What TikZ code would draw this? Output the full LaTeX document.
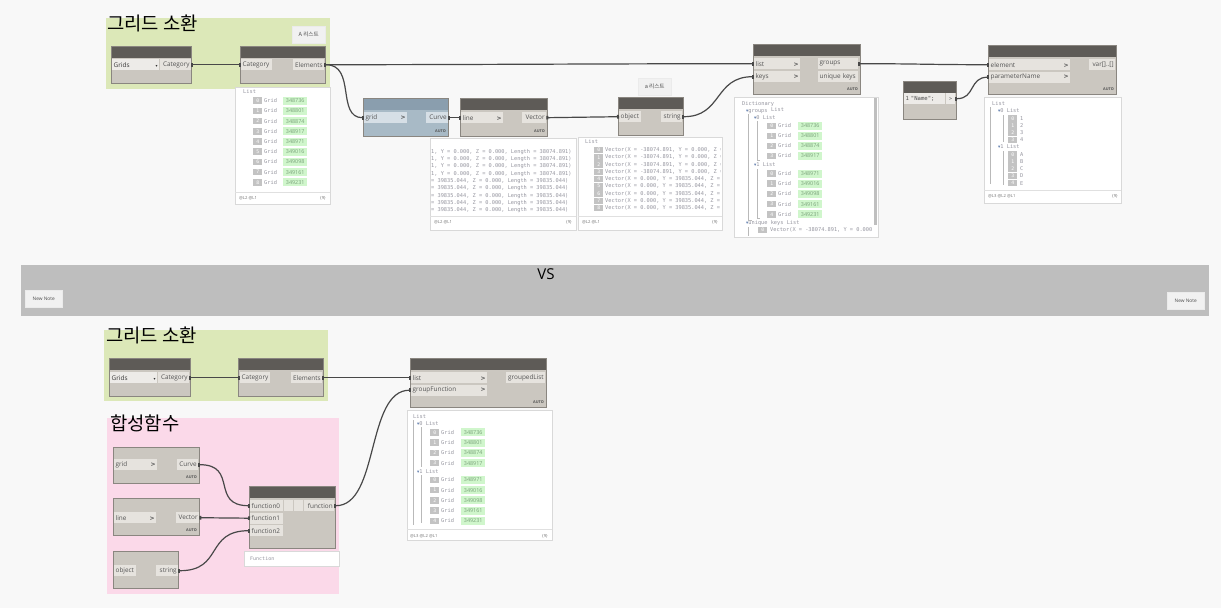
\documentclass[tikz,border=0pt]{standalone}
\usepackage{fontspec}
\setmainfont{Open Sans}
\newfontfamily\uif{Open Sans}
\newfontfamily\monof{DejaVu Sans Mono}
\newfontfamily\symf{DejaVu Sans}
\newfontfamily\kor{Noto Sans CJK KR}
\usetikzlibrary{arrows.meta}
\definecolor{bgc}{RGB}{248,248,248}
\definecolor{hdrc}{RGB}{94,91,87}
\definecolor{bodyc}{RGB}{203,199,192}
\definecolor{portc}{RGB}{230,227,222}
\definecolor{bordc}{RGB}{138,134,128}
\definecolor{txtc}{RGB}{85,85,85}
\definecolor{greengrp}{RGB}{220,232,184}
\definecolor{pinkgrp}{RGB}{251,217,233}
\definecolor{bandc}{RGB}{190,190,190}
\definecolor{wirec}{RGB}{72,72,72}
\definecolor{prevtxt}{RGB}{150,150,160}
\definecolor{idxc}{RGB}{195,195,195}
\definecolor{valc}{RGB}{208,246,204}
\definecolor{valtxt}{RGB}{120,160,120}
\definecolor{bluehdr}{RGB}{138,158,174}
\definecolor{bluebody}{RGB}{168,186,198}
\definecolor{blueport}{RGB}{214,223,230}
\definecolor{notec}{RGB}{241,241,241}
\definecolor{tric}{RGB}{90,120,170}
\definecolor{treec}{RGB}{185,185,185}
\tikzset{
  dport/.style={fill=portc, inner xsep=1.5pt, inner ysep=0pt, minimum height=11pt, text=txtc,
    font=\uif\fontsize{6.4}{7}\selectfont, anchor=north west},
  dportl/.style={dport, align=left},
  dportr/.style={dport, align=right},
  dwire/.style={draw=wirec, line width=1.2pt, {Rectangle[length=2pt,width=3.6pt]}-{Rectangle[length=2pt,width=3.6pt]}},
  ptxt/.style={font=\monof\fontsize{5.3}{6}\selectfont, text=prevtxt, inner sep=0pt, anchor=west},
  pfoot/.style={font=\uif\fontsize{4.2}{5}\selectfont, text=black!55, inner sep=0pt, anchor=west},
  idxbox/.style={fill=idxc, text=white, font=\monof\fontsize{4.8}{5}\selectfont, minimum width=9pt, minimum height=6.5pt, inner sep=0pt, anchor=west},
  valbox/.style={fill=valc, text=valtxt, font=\uif\fontsize{5.4}{6}\selectfont, minimum width=24pt, minimum height=8pt, inner sep=0pt, anchor=west},
  prevbox/.style={draw=black!15, fill=white, line width=0.6pt},
  autolbl/.style={font=\uif\bfseries\fontsize{3.8}{4}\selectfont, text=txtc, inner sep=0pt, anchor=east},
  notebox/.style={fill=notec, draw=black!8, font=\kor\fontsize{5.6}{6}\selectfont, text=black!70, anchor=north west, inner sep=0pt},
  grptitle/.style={font=\kor\fontsize{18.8}{20}\selectfont, inner sep=0pt, anchor=north west, text=black},
  treeline/.style={draw=treec, line width=0.7pt},
}
\newcommand{\dynframe}[6]{%
  \fill[#6] (#1,#2) rectangle (#3,#4);
  \fill[#5] (#1,#2) rectangle (#3,#2+12);
  \draw[bordc, line width=0.7pt] (#1,#2) rectangle (#3,#4);}
\newcommand{\chev}{{\symf\bfseries\fontsize{6}{6}\selectfont >}}
\newcommand{\tri}{{\color{tric}\symf\fontsize{4.5}{5}\selectfont ▾}}
\begin{document}
\begin{tikzpicture}[x=1pt,y=-1pt]
\fill[bgc] (0,0) rectangle (1221,608);
\useasboundingbox (0,0) rectangle (1221,608);

% ================= TOP ROW =================
\fill[greengrp] (106,18) rectangle (330,89);
\node[grptitle] (title1) at (107,14.5) {그리드 소환};
\node[notebox, minimum width=33pt, minimum height=17pt] (noteA) at (292,26) {A 리스트};

% Categories
\dynframe{111}{46}{191}{83}{hdrc}{bodyc}
\node[dportl, fill=portc!70!white, text width=44pt, text=black!80] (dd1) at (112,59) {Grids\hfill{\symf\fontsize{4}{4}\selectfont ▾}};
\node[dportr, text width=28pt] (c1out) at (160,59) {Category};
% All Elements of Category
\dynframe{240}{46}{325}{83}{hdrc}{bodyc}
\node[dportl, text width=28pt] (ae1in) at (241,59) {Category};
\node[dportr, text width=28pt] (ae1out) at (293,59) {Elements};

% preview 1
\draw[prevbox] (235,87) rectangle (330,204);
\draw[black!12] (235,192) -- (330,192);
\node[ptxt] (p1h) at (243,92) {List};
\foreach \v [count=\i from 0] in {348736,348801,348874,348917,348971,349016,349098,349161,349231} {
  \node[idxbox] (p1i\i) at (253,100.7+\i*10.2) {\i};
  \node[ptxt] (p1g\i) at (264,100.7+\i*10.2) {Grid};
  \node[valbox] (p1v\i) at (283,100.7+\i*10.2) {\v};
}
\node[pfoot] (p1f) at (239,198) {@L2 @L1};
\node[pfoot, anchor=east] (p1c) at (326,198) {\{9\}};

% Curve (blue)
\dynframe{363}{98}{448}{136}{bluehdr}{bluebody}
\node[dportl, fill=blueport, text width=40pt] (cvin) at (364,112) {grid\hfill\chev};
\node[dportr, fill=blueport, text width=19pt] (cvout) at (426,112) {Curve};
\node[autolbl] (cvauto) at (446,131) {AUTO};

% Line.Direction
\dynframe{460}{98}{547}{136}{hdrc}{bodyc}
\node[dportl, text width=39pt] (ldin) at (461,112) {line\hfill\chev};
\node[dportr, text width=21pt] (ldout) at (522,112) {Vector};
\node[autolbl] (ldauto) at (545,131) {AUTO};

% preview Curve
\draw[prevbox] (430,138) rectangle (576,230);
\draw[black!12] (430,216) -- (576,216);
\begin{scope}
\clip (431,139) rectangle (575,215);
\foreach \yy [count=\k] in {152,159,166,174} {
  \node[ptxt] (cl\k) at (431,\yy) {1, Y = 0.000, Z = 0.000, Length = 38074.891)};
}
\foreach \yy [count=\k] in {181,188,196,203,210} {
  \node[ptxt] (cm\k) at (431,\yy) {= 39835.044, Z = 0.000, Length = 39835.044)};
}
\end{scope}
\node[pfoot] (p2f) at (434,222) {@L2 @L1};
\node[pfoot, anchor=east] (p2c) at (572,222) {\{9\}};

% note a
\node[notebox, minimum width=33pt, minimum height=17pt] (notea) at (638,78) {a 리스트};

% String from Object
\dynframe{618}{97}{683}{135}{hdrc}{bodyc}
\node[dportl, text width=19pt] (sfoin) at (619,111) {object};
\node[dportr, text width=18pt] (sfoout) at (661,111) {string};

% preview string
\draw[prevbox] (578,137) rectangle (722,230);
\draw[black!12] (578,216) -- (722,216);
\node[ptxt] (p3h) at (585,142) {List};
\begin{scope}
\clip (579,138) rectangle (720,215);
\foreach \i in {0,1,2,3} {
  \node[idxbox] (p3i\i) at (594,150+\i*7.25) {\i};
  \node[ptxt] (p3t\i) at (605,150+\i*7.25) {Vector(X = -38074.891, Y = 0.000, Z = 0.000)};
}
\foreach \i in {4,5,6,7,8} {
  \node[idxbox] (p3i\i) at (594,150+\i*7.25) {\i};
  \node[ptxt] (p3t\i) at (605,150+\i*7.25) {Vector(X = 0.000, Y = 39835.044, Z = 0.000)};
}
\end{scope}
\node[pfoot] (p3f) at (582,222) {@L2 @L1};
\node[pfoot, anchor=east] (p3c) at (718,222) {\{9\}};

% GroupByKey
\dynframe{753}{44}{860}{94}{hdrc}{bodyc}
\node[dportl, text width=43pt] (gbklist) at (754,58) {list\hfill\chev};
\node[dportl, text width=43pt] (gbkkeys) at (754,71) {keys\hfill\chev};
\node[dportl, text width=37pt] (gbkgroups) at (818,58) {groups};
\node[dportl, text width=37pt] (gbkuk) at (818,71) {unique keys};
\node[autolbl] (gbkauto) at (858,89) {AUTO};

% Dictionary preview
\draw[prevbox] (734,97) rectangle (878,237);
\fill[black!25] (873.5,98) rectangle (876.5,225);
\draw[treeline] (748.5,114) -- (748.5,220) -- (752,220);
\draw[treeline] (757,121) -- (757,160) -- (760,160);
\draw[treeline] (757,169) -- (757,218) -- (760,218);
\draw[treeline] (748.5,227) -- (748.5,236);
\node[ptxt] (dh) at (742,104) {Dictionary};
\node[ptxt] (dg) at (746,112) {\tri groups};
\node[ptxt] (dgl) at (771,109.5) {List};
\node[ptxt] (d0) at (754,118) {\tri 0 List};
\foreach \v [count=\i from 0] in {348736,348801,348874,348917} {
  \node[idxbox] (d0i\i) at (767,126+\i*10) {\i};
  \node[ptxt] (d0g\i) at (778,126+\i*10) {Grid};
  \node[valbox] (d0v\i) at (798,126+\i*10) {\v};
}
\node[ptxt] (d1) at (754,165) {\tri 1 List};
\foreach \v [count=\i from 0] in {348971,349016,349098,349161,349231} {
  \node[idxbox] (d1i\i) at (767,173.5+\i*10.2) {\i};
  \node[ptxt] (d1g\i) at (778,173.5+\i*10.2) {Grid};
  \node[valbox] (d1v\i) at (798,173.5+\i*10.2) {\v};
}
\node[ptxt] (duk) at (746,223) {\tri unique keys List};
\begin{scope}
\clip (735,225) rectangle (872,236);
\node[idxbox] (duki) at (758,230) {0};
\node[ptxt] (dukt) at (770,230) {Vector(X = -38074.891, Y = 0.000, Z = 0.000)};
\end{scope}

% Code block
\dynframe{903}{81}{956}{119}{hdrc}{bodyc}
\node[dportl, fill=portc!70!white, text width=38pt, font=\monof\fontsize{5.6}{6}\selectfont, text=black!70] (cbtxt) at (904,93) {1 "Name";};
\node[dport, fill=portc!70!white, minimum width=9pt, inner xsep=0pt, font=\monof\fontsize{5}{6}\selectfont] (cbout) at (946,93) {>};

% GetParameterValueByName
\dynframe{988}{45}{1116}{94}{hdrc}{bodyc}
\node[dportl, text width=78pt] (gpel) at (989,59) {element\hfill\chev};
\node[dportl, text width=78pt] (gppn) at (989,71.5) {parameterName\hfill\chev};
\node[dportr, text width=23pt] (gpout) at (1089,59) {var[]..[]};
\node[autolbl] (gpauto) at (1114,89) {AUTO};

% preview GPV
\draw[prevbox] (984,97) rectangle (1121,203);
\draw[black!12] (984,190) -- (1121,190);
\draw[treeline] (990,107) -- (990,184);
\draw[treeline] (1003,115) -- (1003,142);
\draw[treeline] (1003,151) -- (1003,185);
\node[ptxt] (gh) at (992,104) {List};
\node[ptxt] (g0) at (998,111) {\tri 0 List};
\foreach \v [count=\i from 0] in {1,2,3,4} {
  \node[idxbox] (g0i\i) at (1008,118.3+\i*7.2) {\i};
  \node[ptxt] (g0v\i) at (1020,118.3+\i*7.2) {\v};
}
\node[ptxt] (g1) at (998,147) {\tri 1 List};
\foreach \v [count=\i from 0] in {A,B,C,D,E} {
  \node[idxbox] (g1i\i) at (1008,154.3+\i*7.2) {\i};
  \node[ptxt] (g1v\i) at (1020,154.3+\i*7.2) {\v};
}
\node[pfoot] (gf) at (988,196) {@L3 @L2 @L1};
\node[pfoot, anchor=east] (gc) at (1118,196) {\{9\}};

% wires top
\draw[dwire] (c1out.east) -- (ae1in.west);
\draw[dwire] (ae1out.east) .. controls +(150,0) and +(-150,0) .. (gbklist.west);
\draw[dwire] (ae1out.east) .. controls +(32,0) and +(-28,0) .. (cvin.west);
\draw[dwire] (cvout.east) -- (ldin.west);
\draw[dwire] (ldout.east) -- (sfoin.west);
\draw[dwire] (sfoout.east) .. controls +(40,0) and +(-40,0) .. (gbkkeys.west);
\draw[dwire] (gbkgroups.east) .. controls +(60,0) and +(-60,0) .. (gpel.west);
\draw[dwire] (cbout.east) .. controls +(20,0) and +(-20,0) .. (gppn.west);

% ================= BAND =================
\fill[bandc] (21,265) rectangle (1209,316);
\node[font=\uif\fontsize{15}{16}\selectfont, inner sep=0pt] (vs) at (546,274) {VS};
\node[notebox, font=\uif\fontsize{4.8}{5}\selectfont, minimum width=37pt, minimum height=17pt] (nn1) at (25,290) {New Note};
\node[notebox, font=\uif\fontsize{4.8}{5}\selectfont, minimum width=37pt, minimum height=17pt] (nn2) at (1167,292) {New Note};

% ================= BOTTOM =================
\fill[greengrp] (104,330) rectangle (328,401);
\node[grptitle] (title2) at (106,327) {그리드 소환};

\dynframe{109}{358}{190}{396}{hdrc}{bodyc}
\node[dportl, fill=portc!70!white, text width=44pt, text=black!80] (dd2) at (110,372) {Grids\hfill{\symf\fontsize{4}{4}\selectfont ▾}};
\node[dportr, text width=28pt] (c2out) at (158,372) {Category};
\dynframe{238}{358}{323}{396}{hdrc}{bodyc}
\node[dportl, text width=27pt] (ae2in) at (240,372) {Category};
\node[dportr, text width=28pt] (ae2out) at (291,372) {Elements};

% GroupByFunction
\dynframe{410}{358}{546}{407}{hdrc}{bodyc}
\node[dportl, text width=73pt] (gbfl) at (411,372) {list\hfill\chev};
\node[dportl, text width=73pt] (gbfg) at (411,384.5) {groupFunction\hfill\chev};
\node[dportr, text width=36pt] (gbfout) at (506,372) {groupedList};
\node[autolbl] (gbfauto) at (544,402) {AUTO};

% preview bottom
\draw[prevbox] (407,410) rectangle (552,540);
\draw[black!12] (407,529) -- (552,529);
\draw[treeline] (413,420) -- (413,525);
\draw[treeline] (421,427) -- (421,467);
\draw[treeline] (421,475) -- (421,523);
\node[ptxt] (bh) at (413,417) {List};
\node[ptxt] (b0) at (417,424) {\tri 0 List};
\foreach \v [count=\i from 0] in {348736,348801,348874,348917} {
  \node[idxbox] (b0i\i) at (430,432.3+\i*10.3) {\i};
  \node[ptxt] (b0g\i) at (441,432.3+\i*10.3) {Grid};
  \node[valbox] (b0v\i) at (461,432.3+\i*10.3) {\v};
}
\node[ptxt] (b1) at (417,472) {\tri 1 List};
\foreach \v [count=\i from 0] in {348971,349016,349098,349161,349231} {
  \node[idxbox] (b1i\i) at (430,480+\i*10.2) {\i};
  \node[ptxt] (b1g\i) at (441,480+\i*10.2) {Grid};
  \node[valbox] (b1v\i) at (461,480+\i*10.2) {\v};
}
\node[pfoot] (bf) at (410,536) {@L3 @L2 @L1};
\node[pfoot, anchor=east] (bc) at (548,536) {\{9\}};

% pink group
\fill[pinkgrp] (107,418) rectangle (339,594);
\node[grptitle] (title3) at (110,414.5) {합성함수};

\dynframe{113}{447}{199}{483}{bodyc}{bodyc}
\node[dportl, text width=40pt] (cv2in) at (114,459) {grid\hfill\chev};
\node[dportr, text width=18pt] (cv2out) at (177,459) {Curve};
\node[autolbl] (cv2auto) at (197,477) {AUTO};

\dynframe{113}{498}{199}{535}{bodyc}{bodyc}
\node[dportl, text width=39pt] (ld2in) at (114,512) {line\hfill\chev};
\node[dportr, text width=20pt] (ld2out) at (176,512) {Vector};
\node[autolbl] (ld2auto) at (197,530) {AUTO};

\dynframe{113}{551}{178}{588}{bodyc}{bodyc}
\node[dportl, text width=19pt] (sf2in) at (114,565) {object};
\node[dportr, text width=19pt] (sf2out) at (156,565) {string};

% Function.Compose
\dynframe{249}{486}{335}{548}{hdrc}{bodyc}
\node[dportl, text width=30pt] (fz0) at (250,500) {function0};
\node[dportl, text width=30pt] (fz1) at (250,512.5) {function1};
\node[dportl, text width=30pt] (fz2) at (250,525) {function2};
\fill[portc] (284,500) rectangle (293,511);
\fill[portc] (294,500) rectangle (303,511);
\node[dportr, text width=27pt] (fzout) at (304,500) {function};
\draw[prevbox] (244,551) rectangle (339,566);
\node[ptxt, font=\monof\fontsize{5}{6}\selectfont] (fzprev) at (250,558.5) {Function};

% wires bottom
\draw[dwire] (c2out.east) -- (ae2in.west);
\draw[dwire] (ae2out.east) -- (gbfl.west);
\draw[dwire] (cv2out.east) .. controls +(40,0) and +(-40,0) .. (fz0.west);
\draw[dwire] (ld2out.east) -- (fz1.west);
\draw[dwire] (sf2out.east) .. controls +(45,0) and +(-45,0) .. (fz2.west);
\draw[dwire] (fzout.east) .. controls +(45,0) and +(-45,0) .. (gbfg.west);
\end{tikzpicture}
\end{document}
